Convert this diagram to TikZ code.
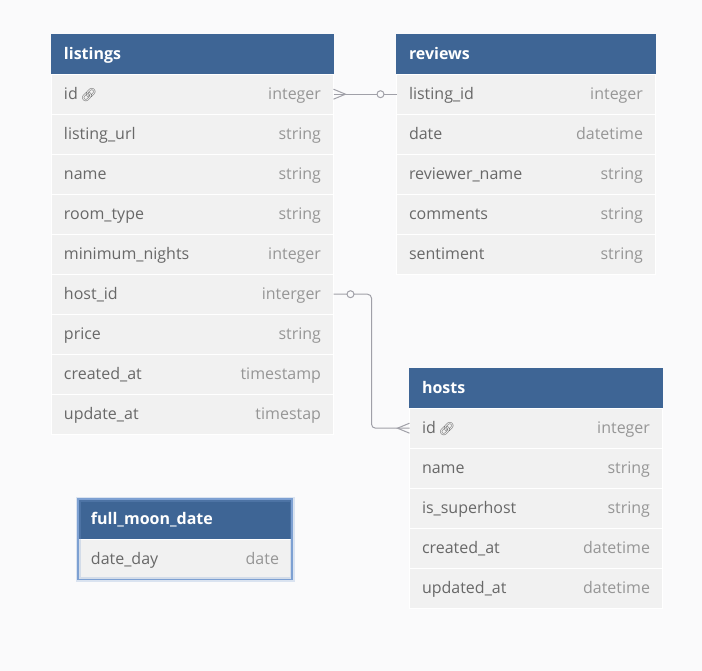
\documentclass[tikz,border=0pt]{standalone}
\usepackage{fontspec}
\setmainfont{Open Sans}
\newfontfamily\emojifont{Noto Emoji}
\usetikzlibrary{matrix,calc}
\definecolor{hdrblue}{RGB}{62,101,149}
\definecolor{rowgrey}{RGB}{241,241,241}
\definecolor{pagegrey}{RGB}{250,250,251}
\definecolor{namegrey}{RGB}{104,104,104}
\definecolor{typegrey}{RGB}{150,150,150}
\definecolor{linkgrey}{RGB}{160,160,168}
\definecolor{glowblue}{RGB}{125,160,210}
\tikzset{x=1pt,y=1pt,
  tbl/.style={matrix of nodes,inner sep=0pt,row sep=0pt,anchor=north west,
    nodes={fill=rowgrey,draw=white,line width=0.6pt,outer sep=0pt,minimum height=39.4pt,inner xsep=12.5pt,inner ysep=0pt,
      align=left,text=namegrey,text height=13.5pt,text depth=3pt,font=\fontsize{16}{19}\selectfont}},
  hdr/.style={fill=hdrblue,draw=hdrblue,text=white,font=\fontsize{16}{19}\selectfont\bfseries},
  rel/.style={draw=linkgrey,line width=1pt},
  opt/.style={rel,fill=pagegrey}}
\newcommand\fld[2]{#1\hfill\textcolor{typegrey}{#2}}
\newcommand\keyicon{\,{\emojifont\fontsize{13}{13}\selectfont\textcolor{namegrey}{🔗}}}

\begin{document}
\begin{tikzpicture}
        \path[use as bounding box,fill=pagegrey] (0,0) rectangle (702,-671);
        \matrix (listings) [tbl,nodes={text width=257pt}] at (51,-34) {
          |[hdr]| listings \\
          \fld{id\keyicon}{integer} \\
          \fld{listing\_url}{string} \\
          \fld{name}{string} \\
          \fld{room\_type}{string} \\
          \fld{minimum\_nights}{integer} \\
          \fld{host\_id}{interger} \\
          \fld{price}{string} \\
          \fld{created\_at}{timestamp} \\
          \fld{update\_at}{timestap} \\
        };
        \matrix (reviews) [tbl,nodes={text width=234pt}] at (396,-34) {
          |[hdr]| reviews \\
          \fld{listing\_id}{integer} \\
          \fld{date}{datetime} \\
          \fld{reviewer\_name}{string} \\
          \fld{comments}{string} \\
          \fld{sentiment}{string} \\
        };
        \matrix (hosts) [tbl,nodes={text width=228pt}] at (409,-368) {
          |[hdr]| hosts \\
          \fld{id\keyicon}{integer} \\
          \fld{name}{string} \\
          \fld{is\_superhost}{string} \\
          \fld{created\_at}{datetime} \\
          \fld{updated\_at}{datetime} \\
        };
        \matrix (moon) [tbl,nodes={text width=188pt}] at (78,-499) {
          |[hdr]| full\_moon\_date \\
          \fld{date\_day}{date} \\
        };
        \draw[glowblue,opacity=0.25,line width=5pt] (moon.north west) rectangle (moon.south east);
        \draw[glowblue,line width=1.5pt] (moon.north west) rectangle (moon.south east);
        \draw[rel] (listings-2-1.east) -- (reviews-2-1.west);
        \draw[rel] ($(listings-2-1.east)+(0,5)$) -- ++(12,-5) -- ++(-12,-5);
        \draw[opt] ($(reviews-2-1.west)+(-16,0)$) circle (3.5pt);
        \draw[rel,rounded corners=4pt] (listings-7-1.east) -- ++(38,0) |- (hosts-2-1.west);
        \draw[rel] ($(hosts-2-1.west)+(0,5)$) -- ++(-12,-5) -- ++(12,-5);
        \draw[opt] ($(listings-7-1.east)+(17,0)$) circle (3.5pt);
\end{tikzpicture}
\end{document}
